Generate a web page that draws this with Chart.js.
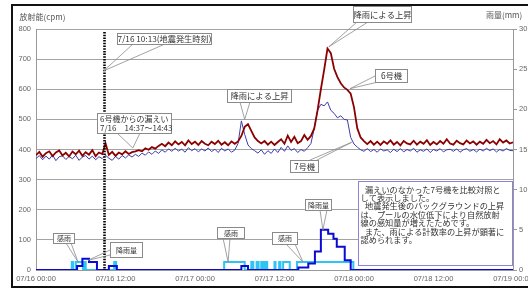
<!DOCTYPE html>
<html><head><meta charset="utf-8">
<script src="https://cdn.jsdelivr.net/npm/chart.js@4"></script>
<style>html,body{margin:0;padding:0;background:#fff;}canvas{display:block;}</style>
</head><body>
<canvas id="c" width="528" height="289"></canvas>
<script>
// ---- data ----
const xTickLabels = ['07/16 00:00','07/16 12:00','07/17 00:00','07/17 12:00','07/18 00:00','07/18 12:00','07/19 00:00'];
const leftTicksMax = 800, rightTicksMax = 30;
// sample times (hours since 07/16 00:00), every 30 minutes
const sampleHours = Array.from({length:145},(_,i)=>i*0.5);
// 6号機 (cpm)
const unit6 = [
381,392,376,388,394,378,390,397,380,389,377,393,384,396,379,391,383,398,378,390,385,
420,
382,392,379,390,384,394,385,391,
394,398,394,404,399,408,403,412,419,411,
423,414,427,417,425,414,430,418,426,415,
428,419,414,426,418,429,416,424,414,427,
419,427,445,475,484,462,440,428,420,428,
416,426,415,425,434,419,446,425,442,421,
428,448,432,445,470,530,600,665,735,720,
668,640,620,606,598,585,540,470,440,428,
418,428,416,426,415,427,419,430,416,425,
414,428,420,417,429,416,426,419,431,415,
425,417,428,419,434,420,416,429,421,417,
430,420,427,416,426,419,432,421,428,417,
434,423,430,420,424];
// 7号機 (cpm)
const unit7 = [
370,380,366,378,368,382,363,376,379,367,377,369,381,364,375,380,368,378,366,376,370,
381,
371,364,377,368,380,372,382,375,
384,377,388,381,392,384,395,387,399,391,
402,394,404,395,401,391,406,396,403,392,
402,395,405,393,401,390,404,395,402,391,
398,420,495,450,415,403,396,388,399,384,
396,387,402,390,407,394,412,397,403,390,
400,394,406,420,470,530,550,545,558,530,
520,505,512,500,498,440,418,408,399,394,
403,393,400,391,402,395,399,390,401,393,
403,392,400,395,404,391,399,394,402,390,
400,395,403,392,399,401,394,402,391,399,
403,394,400,392,401,395,404,396,402,392,
400,395,403,397,396];
// 降雨量 (mm) – step change points
const rainHours = [0,6.2,7.0,8.0,9.2,11.0,12.2,31.0,32.0,39.6,41.1,42.1,43.0,44.1,44.9,45.4,46.6,47.5,72];
const rainMm    = [0,0.5,1.4,1.0,0,  0.5, 0,   0.5, 0,   0.3, 0.8, 2.3, 5.0, 4.5, 3.9, 2.9, 1.2, 0,   0];
// 感雨 (on/off) – step change points
const senseHours = [0,5.4,5.6,6.0,7.1,7.3,7.5,11.8,12.1,28.4,31.5,32.5,32.8,33.3,33.6,34.0,34.3,34.6,34.9,36.0,36.15,36.7,36.9,37.3,38.3,39.4,47.9,72];
const senseVals  = [0,1,  0,  1,  0,  1,  0,  1,   0,   1,   0,   1,   0,   1,   0,   1,   0,   1,   0,   1,   0,    1,   0,   1,   0,   1,   0,   0];
const quakeHour = 10 + 13/60;

// ---- annotations (text + anchor in data units) ----
const callouts = [
  {box:[117,33,94,11], lines:['7/16 10:13(地震発生時刻)'], size:8.2, base:[[133,44],[165,44]], tip:[quakeHour,661], axis:'y'},
  {box:[97,113,74,20], lines:['6号機からの漏えい','7/16　14:37〜14:43'], size:8, base:[[117,133],[140,133]], tip:[14+37/60,405], axis:'y'},
  {box:[227,89,64,13], lines:['降雨による上昇'], size:8.3, base:[[240,102],[250,102]], tip:[31.5,500], axis:'y'},
  {box:[353,6,58,16], lines:['降雨による上昇'], size:8.3, base:[[357,22],[368,22]], tip:[44.2,741], axis:'y'},
  {box:[375,69,32,13], lines:['6号機'], size:8.3, base:[[375,76],[378,82]], tip:[47.4,602], axis:'y'},
  {box:[290,160,28,12], lines:['7号機'], size:8.3, base:[[310,160],[317,160]], tip:[47.65,424], axis:'y'},
  {box:[53,233,21,10], lines:['感雨'], size:7, base:[[66,243],[71,243]], tip:[6.34,1.0], axis:'y1'},
  {box:[110,242,32,15], lines:['降雨量'], size:7, base:[[110,250],[110,255]], tip:[7.85,1.2], axis:'y1'},
  {box:[217,227,27,11], lines:['感雨'], size:7, base:[[223,238],[230,238]], tip:[29.0,1.0], axis:'y1'},
  {box:[272,232,25,12], lines:['感雨'], size:7, base:[[286,244],[295,244]], tip:[40.3,1.0], axis:'y1'},
  {box:[305,199,26,11], lines:['降雨量'], size:7, base:[[320,210],[327,210]], tip:[43.3,5.0], axis:'y1'}
];
const noteLines = [
  [1,'漏えいのなかった7号機を比較対照と'],
  [0,'して表示しました。'],
  [1,'地震発生後のバックグラウンドの上昇'],
  [0,'は、プールの水位低下により自然放射'],
  [0,'線の感知量が増えたためです。'],
  [1,'また、雨による計数率の上昇が顕著に'],
  [0,'認められます。']
];
const JP = '"Noto Sans CJK JP", sans-serif';
const tickFont = {family:"'Liberation Sans', Arial, sans-serif", size:7.5};

const overlay = {
  id:'overlay',
  afterDatasetsDraw(chart){
    const ctx = chart.ctx, a = chart.chartArea, xs = chart.scales.x;
    // earthquake dotted line
    const qx = Math.round(xs.getPixelForValue(quakeHour)) + 0.5;
    ctx.save();
    ctx.strokeStyle = '#000'; ctx.lineWidth = 2.6; ctx.setLineDash([1.5,1.2]);
    ctx.beginPath(); ctx.moveTo(qx, a.top + 3); ctx.lineTo(qx, a.bottom); ctx.stroke();
    ctx.restore();
    // callouts
    ctx.save();
    for (const c of callouts){
      const tx = xs.getPixelForValue(c.tip[0]);
      const ty = chart.scales[c.axis].getPixelForValue(c.tip[1]);
      ctx.strokeStyle = '#8a8a8a'; ctx.lineWidth = 0.8;
      ctx.beginPath();
      for (const [bx,by] of c.base){ ctx.moveTo(bx,by); ctx.lineTo(tx,ty); }
      ctx.stroke();
      const [bx,by,bw,bh] = c.box;
      ctx.fillStyle = '#fff'; ctx.fillRect(bx,by,bw,bh);
      ctx.lineWidth = 1; ctx.strokeStyle = '#8a8a8a';
      ctx.strokeRect(bx+0.5,by+0.5,bw,bh);
      ctx.fillStyle = '#333'; ctx.font = c.size + 'px ' + JP;
      ctx.textBaseline = 'middle'; ctx.textAlign = 'center';
      const lh = c.size + 1;
      const y0 = by + bh/2 + 0.5 - (c.lines.length-1)*lh/2;
      c.lines.forEach((t,i)=>{
        if (c.lines.length > 1){ ctx.textAlign='left'; ctx.fillText(t, bx+3, y0+i*lh); }
        else ctx.fillText(t, bx + bw/2 + 0.5, y0);
      });
    }
    // note box
    ctx.fillStyle = '#fff'; ctx.fillRect(358,181,154,84);
    ctx.strokeStyle = '#8c82d6'; ctx.lineWidth = 1; ctx.strokeRect(358.5,181.5,154,84);
    ctx.fillStyle = '#333'; ctx.font = '8.2px ' + JP; ctx.textAlign='left'; ctx.textBaseline='middle';
    noteLines.forEach(([ind,t],i)=>{ ctx.fillText(t, ind ? 365 : 360.5, 189.5 + i*8.4); });
    ctx.restore();
  },
  afterDraw(chart){
    const ctx = chart.ctx;
    ctx.save();
    ctx.fillStyle = '#555'; ctx.font = '8px ' + JP; ctx.textBaseline='middle'; ctx.textAlign='left';
    ctx.fillText('放射能(cpm)', 19.5, 17);
    ctx.fillText('雨量(mm)', 486, 15);
    ctx.strokeStyle = '#111'; ctx.lineWidth = 2;
    ctx.beginPath(); ctx.moveTo(540,5); ctx.lineTo(12,5); ctx.lineTo(12,287); ctx.lineTo(540,287); ctx.stroke();
    ctx.restore();
  }
};

new Chart(document.getElementById('c'), {
  type:'line',
  data:{ datasets:[
    {label:'6号機', data: sampleHours.map((h,i)=>({x:h,y:unit6[i]})), yAxisID:'y', borderColor:'#8b0000', borderWidth:1.8, pointRadius:0, order:0},
    {label:'7号機', data: sampleHours.map((h,i)=>({x:h,y:unit7[i]})), yAxisID:'y', borderColor:'#3c3cab', borderWidth:1, pointRadius:0, order:1},
    {label:'降雨量', data: rainHours.map((h,i)=>({x:h,y:rainMm[i]})), yAxisID:'y1', stepped:true, borderColor:'#0a0ad0', borderWidth:2, pointRadius:0, order:2},
    {label:'感雨', data: senseHours.map((h,i)=>({x:h,y:senseVals[i]})), yAxisID:'y1', stepped:true, borderColor:'#2ec4f4', borderWidth:2, pointRadius:0, order:3}
  ]},
  options:{
    responsive:false, animation:false, devicePixelRatio:1,
    layout:{padding:{top:29,left:0,right:0,bottom:0}},
    plugins:{legend:{display:false}, tooltip:{enabled:false}},
    scales:{
      x:{type:'linear', min:0, max:72, position:'bottom',
        ticks:{stepSize:12, autoSkip:false, maxRotation:0, padding:4, color:'#666', font:tickFont,
          callback:(v)=> xTickLabels[Math.round(v/12)] ?? ''},
        grid:{display:false, drawTicks:false}, border:{display:true, color:'#999'},
        afterFit(s){ s.height = 19; s.paddingLeft = 0; s.paddingRight = 0; }},
      y:{type:'linear', position:'left', min:0, max:leftTicksMax,
        ticks:{stepSize:100, padding:5, color:'#666', font:tickFont},
        grid:{color:'#a3a3a3', drawTicks:false}, border:{display:true, color:'#999'},
        afterFit(s){ s.width = 36; s.paddingTop = 0; s.paddingBottom = 0; }},
      y1:{type:'linear', position:'right', min:0, max:rightTicksMax,
        ticks:{stepSize:5, padding:2, color:'#666', font:tickFont},
        grid:{drawOnChartArea:false, drawTicks:true, tickLength:4, color:'#999'}, border:{display:true, color:'#999'},
        afterFit(s){ s.width = 15; s.paddingTop = 0; s.paddingBottom = 0; }}
    }
  },
  plugins:[overlay]
});
</script>
</body></html>
